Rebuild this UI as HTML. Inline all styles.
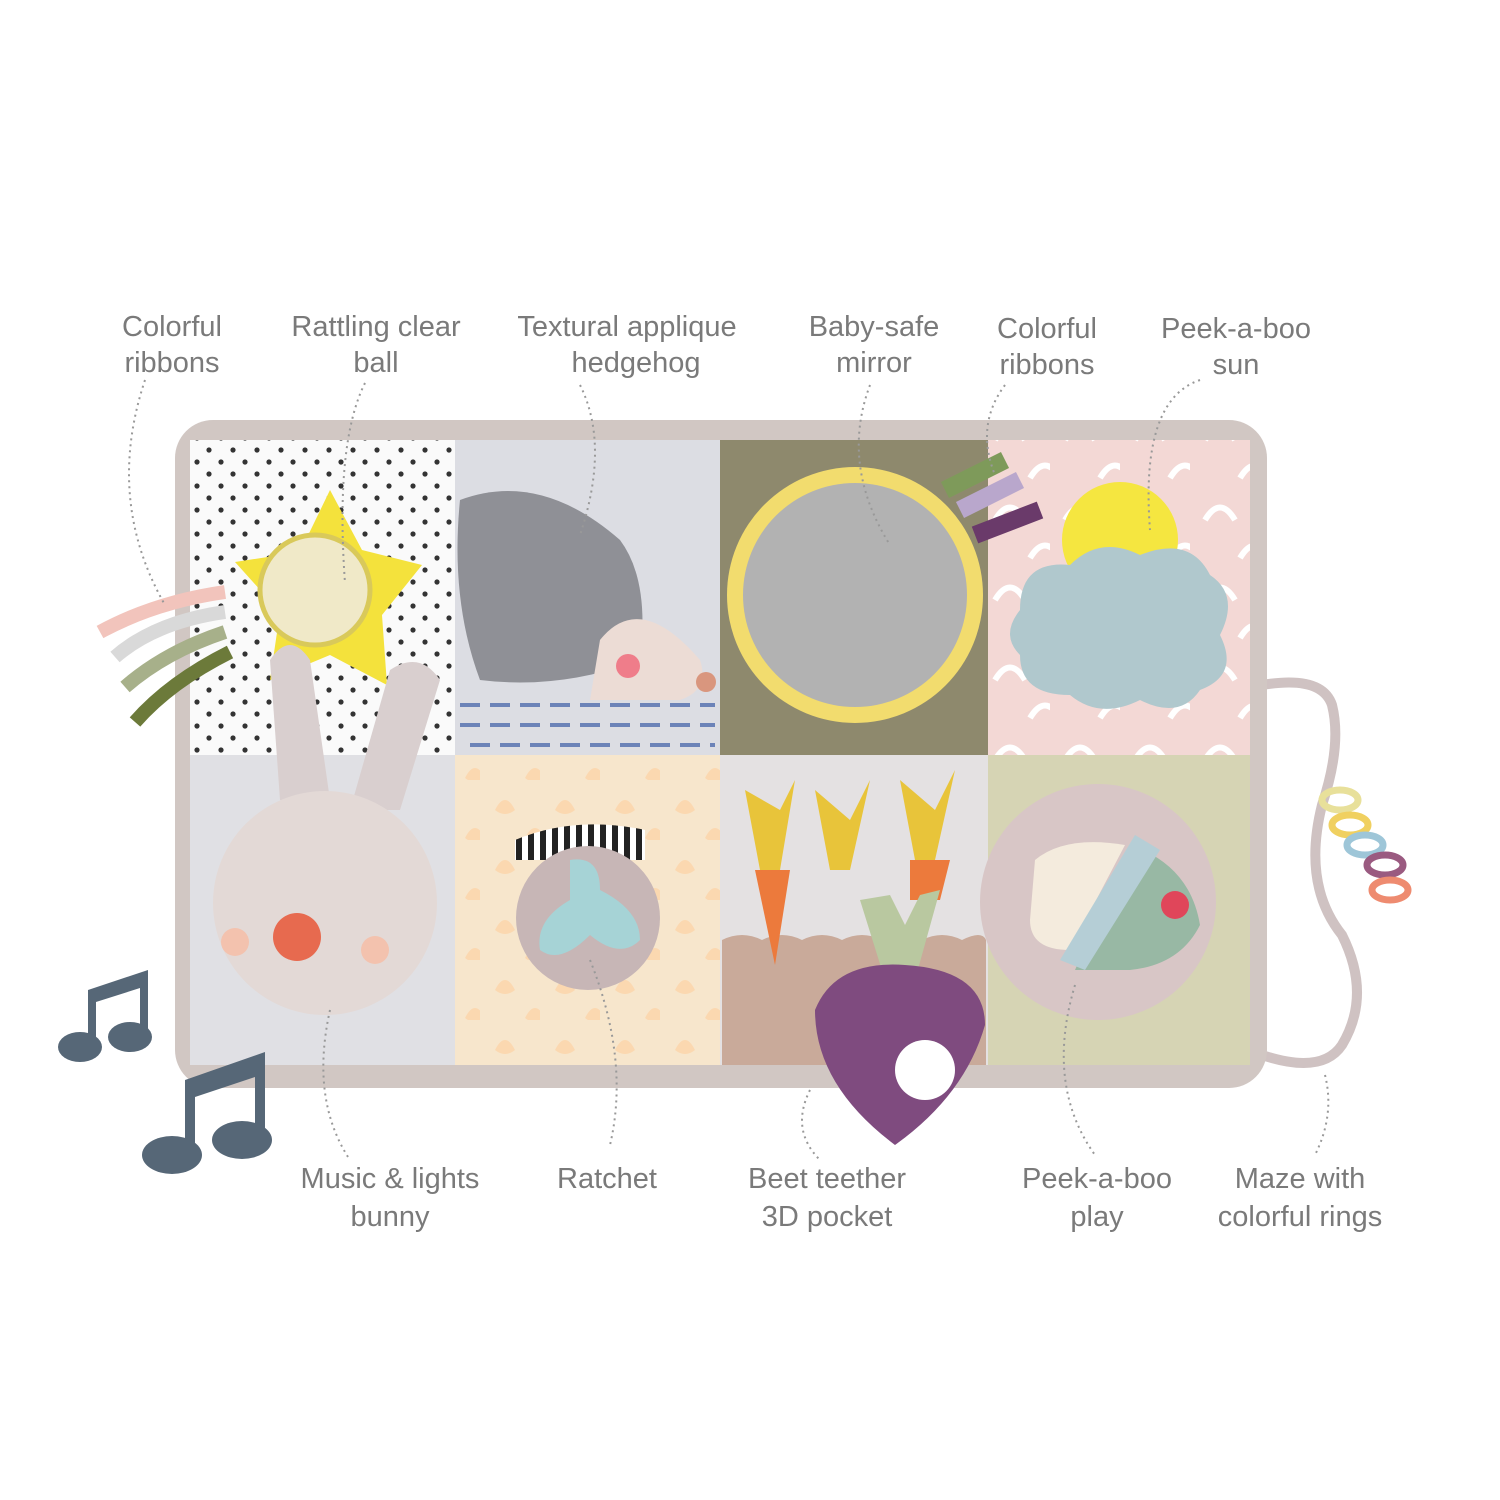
<!DOCTYPE html>
<html><head><meta charset="utf-8"><style>
html,body{margin:0;padding:0;background:#fff}
svg{display:block}
text{font-family:"Liberation Sans",sans-serif;font-size:29px;fill:#7a7a7a;text-anchor:middle}
.l{fill:none;stroke:#999;stroke-width:2;stroke-dasharray:2 4}
</style></head><body>
<svg width="1500" height="1500" viewBox="0 0 1500 1500" xmlns="http://www.w3.org/2000/svg">
<defs>
<pattern id="dots" width="24" height="24" patternUnits="userSpaceOnUse"><circle cx="5" cy="6" r="2.6" fill="#333"/><circle cx="17" cy="18" r="2.6" fill="#333"/></pattern>
<pattern id="arcs" width="70" height="80" patternUnits="userSpaceOnUse"><path d="M15 40 q15 -25 30 0" stroke="#fff" stroke-width="6" fill="none"/><path d="M50 78 q15 -25 30 0" stroke="#fff" stroke-width="6" fill="none"/></pattern>
<pattern id="tul" width="60" height="60" patternUnits="userSpaceOnUse"><path d="M15 30 q10 -20 20 0 q-10 8 -20 0z" fill="#fbd8b0"/><path d="M45 58 q10 -20 20 0 q-10 8 -20 0z" fill="#fbd8b0"/></pattern>
<pattern id="zeb" width="12" height="40" patternUnits="userSpaceOnUse"><rect width="6" height="40" fill="#222"/><rect x="6" width="6" height="40" fill="#fff"/></pattern>
</defs>
<text x="172" y="336">Colorful</text><text x="172" y="372">ribbons</text>
<text x="376" y="336">Rattling clear</text><text x="376" y="372">ball</text>
<text x="627" y="336">Textural applique</text><text x="636" y="372">hedgehog</text>
<text x="874" y="336">Baby-safe</text><text x="874" y="372">mirror</text>
<text x="1047" y="338">Colorful</text><text x="1047" y="374">ribbons</text>
<text x="1236" y="338">Peek-a-boo</text><text x="1236" y="374">sun</text>
<text x="390" y="1188">Music &amp; lights</text><text x="390" y="1226">bunny</text>
<text x="607" y="1188">Ratchet</text>
<text x="827" y="1188">Beet teether</text><text x="827" y="1226">3D pocket</text>
<text x="1097" y="1188">Peek-a-boo</text><text x="1097" y="1226">play</text>
<text x="1300" y="1188">Maze with</text><text x="1300" y="1226">colorful rings</text>
<path d="M1262 685 q60 -10 70 20 q10 40 -10 100 q-20 80 20 130 q30 60 0 110 q-20 30 -80 10" fill="none" stroke="#cfc2c2" stroke-width="10"/>
<g fill="none" stroke-width="7"><ellipse cx="1340" cy="800" rx="18" ry="10" stroke="#e8e09a"/><ellipse cx="1350" cy="825" rx="18" ry="10" stroke="#f0d060"/><ellipse cx="1365" cy="845" rx="18" ry="10" stroke="#9ec6d8"/><ellipse cx="1385" cy="865" rx="18" ry="10" stroke="#9a5a80"/><ellipse cx="1390" cy="890" rx="18" ry="10" stroke="#ee8b70"/></g>
<rect x="175" y="420" width="1092" height="668" rx="38" fill="#d1c7c3"/>
<rect x="190" y="440" width="265" height="315" fill="#fafafa"/><rect x="190" y="440" width="265" height="315" fill="url(#dots)"/>
<rect x="455" y="440" width="265" height="315" fill="#dcdde3"/>
<rect x="720" y="440" width="268" height="315" fill="#8e896d"/>
<rect x="988" y="440" width="262" height="315" fill="#f3d8d5"/><rect x="988" y="440" width="262" height="315" fill="url(#arcs)"/>
<rect x="190" y="755" width="265" height="310" fill="#e0e0e4"/>
<rect x="455" y="755" width="265" height="310" fill="#f7e6cc"/><rect x="455" y="755" width="265" height="310" fill="url(#tul)"/>
<rect x="720" y="755" width="268" height="310" fill="#e4e1e2"/>
<path d="M722 940 q20 -10 40 0 q20 -10 40 0 q20 -10 40 0 q20 -10 40 0 q20 -10 40 0 q20 -10 40 0 q20 -10 24 0 V1065 H722z" fill="#c9aa9a"/>
<rect x="988" y="755" width="262" height="310" fill="#d6d4b4"/>
<g stroke="#6c83b8" stroke-width="4" stroke-dasharray="20 10"><line x1="460" y1="725" x2="715" y2="725"/><line x1="470" y1="745" x2="715" y2="745"/><line x1="460" y1="705" x2="715" y2="705"/></g>
<path d="M460 500 q80 -30 160 40 q30 40 20 120 q-80 30 -160 20 q-30 -80 -20 -180z" fill="#8f9096"/>
<path d="M600 640 q40 -50 100 20 q10 30 -20 40 h-90z" fill="#ecdcd5"/>
<circle cx="628" cy="666" r="12" fill="#ef7d8a"/><circle cx="706" cy="682" r="10" fill="#d9967e"/>
<g stroke-width="14" fill="none"><path d="M225 592 q-70 10 -125 40" stroke="#f2c4bc"/><path d="M225 612 q-70 10 -110 45" stroke="#d9d9d9"/><path d="M225 632 q-60 20 -100 55" stroke="#a7b08a"/><path d="M230 652 q-60 30 -95 70" stroke="#6c7a3a"/></g>
<path d="M330 490 l32 60 l60 15 l-40 50 l5 70 l-57 -30 l-60 25 l10 -68 l-45 -50 l65 -10z" fill="#f4e23c"/>
<circle cx="315" cy="590" r="55" fill="#f0e9c8" stroke="#d9c95a" stroke-width="5"/>
<circle cx="855" cy="595" r="128" fill="#f2dc6e"/><circle cx="855" cy="595" r="112" fill="#b2b2b2"/>
<g stroke-width="18"><line x1="945" y1="490" x2="1005" y2="460" stroke="#7e9a5a"/><line x1="960" y1="510" x2="1020" y2="480" stroke="#b9a7cc"/><line x1="975" y1="535" x2="1040" y2="510" stroke="#6a3a6a"/></g>
<circle cx="1120" cy="540" r="58" fill="#f5e640"/>
<path d="M1020 610 q0 -50 50 -45 q30 -30 70 -10 q50 -20 70 20 q30 20 10 60 q20 40 -20 55 q-20 30 -60 10 q-40 20 -70 -5 q-50 0 -50 -40 q-20 -20 0 -45z" fill="#b0c8cd"/>
<path d="M270 660 q20 -30 40 0 l20 140 h-50z" fill="#d9cfcf"/><path d="M390 670 q30 -20 50 10 l-40 130 h-50z" fill="#d9cfcf"/>
<circle cx="325" cy="903" r="112" fill="#e3d9d6"/>
<circle cx="297" cy="937" r="24" fill="#e76a4f"/>
<circle cx="235" cy="942" r="14" fill="#f3c2ae"/><circle cx="375" cy="950" r="14" fill="#f3c2ae"/>
<path d="M515 840 q60 -25 130 -10 v30 h-130z" fill="url(#zeb)"/>
<circle cx="588" cy="918" r="72" fill="#c7b6b6"/>
<path d="M570 860 q30 -5 30 30 q40 20 40 50 q-20 20 -50 -5 q-30 30 -50 15 q-5 -30 30 -50z" fill="#a6d3d6"/>
<g fill="#e8c43a"><path d="M745 790 l15 80 h20 l15 -90 l-15 30z"/><path d="M815 790 l15 80 h20 l20 -90 l-20 40z"/><path d="M900 780 l15 80 h20 l20 -90 l-20 40z"/></g>
<path d="M755 870 h35 l-15 95 z" fill="#ec7a3c"/><path d="M910 860 h40 l-10 40 h-30z" fill="#ec7a3c"/>
<path d="M860 900 l25 80 h30 l25 -90 l-20 5 l-15 30 l-15 -30z" fill="#b9c8a0"/>
<path d="M815 1010 q20 -50 90 -45 q80 5 80 60 q-20 70 -90 120 q-80 -60 -80 -135z" fill="#7f4b7f"/>
<circle cx="925" cy="1070" r="30" fill="#fff"/>
<circle cx="1098" cy="902" r="118" fill="#d8c6c6"/>
<path d="M1035 860 q30 -25 90 -15 l-55 105 q-40 0 -40 -30z" fill="#f4ebdd"/>
<path d="M1130 845 q60 20 70 80 q-20 40 -70 45 l-55 0z" fill="#98b8a4"/>
<path d="M1135 835 l25 15 l-75 120 l-25 -10z" fill="#b5ced6"/>
<circle cx="1175" cy="905" r="14" fill="#e0465a"/>
<g fill="#566777"><path d="M88 990 l60 -20 v68 h-8 v-50 l-44 14 v52 h-8z"/><ellipse cx="80" cy="1047" rx="22" ry="15"/><ellipse cx="130" cy="1037" rx="22" ry="15"/>
<path d="M185 1080 l80 -28 v90 h-10 v-65 l-60 20 v70 h-10z"/><ellipse cx="172" cy="1155" rx="30" ry="19"/><ellipse cx="242" cy="1140" rx="30" ry="19"/></g>
<path class="l" d="M145 380 q-40 120 20 225"/>
<path class="l" d="M365 383 q-30 60 -20 200"/>
<path class="l" d="M580 385 q30 60 0 150"/>
<path class="l" d="M870 385 q-30 80 20 160"/>
<path class="l" d="M1005 385 q-30 40 -10 90"/>
<path class="l" d="M1200 380 q-60 20 -50 150"/>
<path class="l" d="M330 1010 q-20 90 20 150"/>
<path class="l" d="M590 960 q40 100 20 185"/>
<path class="l" d="M810 1090 q-20 40 10 70"/>
<path class="l" d="M1075 985 q-30 100 20 170"/>
<path class="l" d="M1325 1075 q10 40 -10 80"/>
</svg>
</body></html>
